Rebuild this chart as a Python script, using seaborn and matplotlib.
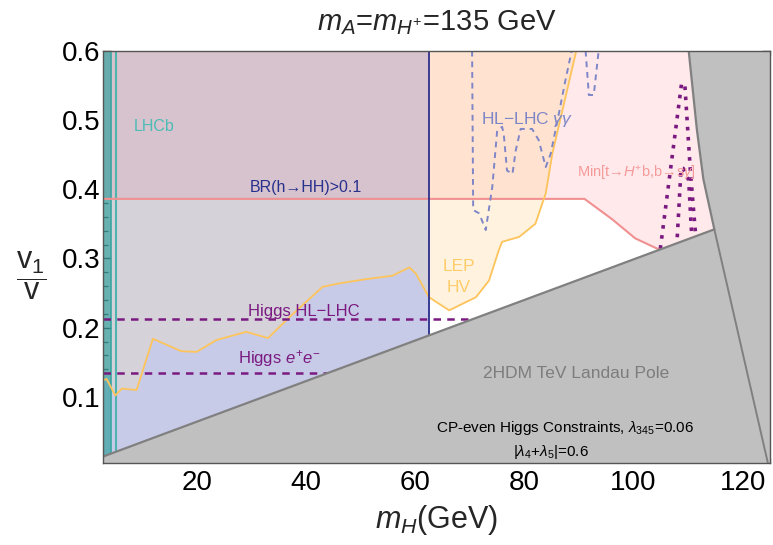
import matplotlib
matplotlib.use("Agg")
import matplotlib.pyplot as plt
from matplotlib.ticker import MultipleLocator
import seaborn as sns
import pandas as pd

# plot range
x_min, x_max = 2.8, 125
y_min, y_max = 0.005, 0.6

# LEP / Higgs boundary (yellow line)
lep_x = [2.8, 3.4, 5.0, 6.2, 8.9, 11.9, 17.1, 19.9, 23.5, 29.0, 33.0, 36.9, 43.0, 46.1,
         50.9, 55.8, 58.9, 60.1, 62.5, 66.2, 71.1, 73.5, 75.3, 75.9, 79.0, 82.0, 83.9,
         85.1, 89.5]
lep_y = [0.124, 0.126, 0.102, 0.112, 0.110, 0.184, 0.166, 0.165, 0.182, 0.194, 0.185,
         0.215, 0.259, 0.264, 0.270, 0.275, 0.287, 0.278, 0.244, 0.225, 0.244, 0.268,
         0.312, 0.324, 0.331, 0.350, 0.394, 0.451, 0.600]

# Min[t->H+b, b->s gamma] boundary (pink)
pink_x = [2.8, 91.0, 96.0, 100.3, 104.9, 125.0]
pink_y = [0.386, 0.386, 0.357, 0.329, 0.312, 0.250]

# BR(h->HH)>0.1 : mH < mh/2
br_edge = 62.5

# LHCb
lhcb_band = [2.8, 4.2]
lhcb_line = 5.1

# Landau pole region (grey)
landau_x = [2.8, 114.8, 112.8, 111.6, 110.1, 125.0, 125.0, 2.8]
landau_y = [0.014, 0.342, 0.414, 0.486, 0.600, 0.600, 0.0, 0.0]
landau_edge_x = [2.8, 114.8, 112.8, 111.6, 110.1]
landau_edge_y = [0.014, 0.342, 0.414, 0.486, 0.600]
inner_x = [114.8, 124.6]
inner_y = [0.342, 0.005]

# HL-LHC gamma gamma (dashed)
hl_x1 = [70.4, 70.6, 71.7, 72.9, 74.1, 75.0, 75.9, 76.2, 76.8, 77.8, 78.4, 79.3, 81.4,
         82.6, 83.9, 84.8, 86.3, 87.5, 88.6, 88.8]
hl_y1 = [0.600, 0.370, 0.365, 0.341, 0.403, 0.485, 0.490, 0.480, 0.427, 0.422, 0.456,
         0.487, 0.487, 0.471, 0.432, 0.451, 0.509, 0.557, 0.598, 0.600]
hl_x2 = [91.2, 91.8, 92.7, 93.6]
hl_y2 = [0.600, 0.536, 0.536, 0.600]

# Higgs coupling lines
higgs_hl = 0.213
higgs_ee = 0.135
peak_a_x = [104.9, 108.8, 109.4, 110.4, 111.4]
peak_a_y = [0.314, 0.553, 0.550, 0.427, 0.331]
peak_b_x = [107.9, 108.7, 109.1, 110.1, 110.7]
peak_b_y = [0.316, 0.430, 0.430, 0.413, 0.326]

sns.set_theme(style="ticks")
plt.rcParams["font.family"] = ["Liberation Sans", "DejaVu Sans"]
plt.rcParams["mathtext.fontset"] = "custom"
plt.rcParams["mathtext.rm"] = "Liberation Sans"
plt.rcParams["mathtext.it"] = "Liberation Sans:italic"
plt.rcParams["mathtext.bf"] = "Liberation Sans:bold"

fig = plt.figure(figsize=(7.73, 5.45), dpi=100)
ax = fig.add_axes([0.1336, 0.151, 0.8625, 0.756])

lep = pd.DataFrame({"x": lep_x, "y": lep_y})
left = lep[lep.x <= br_edge]
right = lep[lep.x >= br_edge]

# regions
ax.fill_between(pink_x, pink_y, y_max, color="#ffe9eb", lw=0, zorder=1)
ax.fill_between(right.x, right.y, y_max, color="#ffd383", alpha=0.25, lw=0, zorder=1.1)
ax.fill_between([x_min, br_edge], y_min - 0.01, y_max, color="#8a7e95", alpha=0.35, lw=0, zorder=1.2)
ax.fill_between(left.x, y_min - 0.01, left.y, color="#c8cbe8", lw=0, zorder=1.3)
ax.axvspan(lhcb_band[0], lhcb_band[1], color="#1f9c96", alpha=0.6, lw=0, zorder=1.4)
ax.axvline(lhcb_band[1], color="#3aa6a2", lw=1.2, zorder=1.5)
ax.axvline(lhcb_line, color="#4fb3ae", lw=1.5, zorder=1.5)

# boundary lines
sns.lineplot(x=pink_x, y=pink_y, sort=False, estimator=None, color="#f09090", lw=1.5, ax=ax, zorder=2)
sns.lineplot(x=lep_x, y=lep_y, sort=False, estimator=None, color="#fdc45c", lw=1.3, ax=ax, zorder=2.1)
ax.axvline(br_edge, color="#2b2e8c", lw=1.3, zorder=2.2)
sns.lineplot(x=hl_x1, y=hl_y1, sort=False, estimator=None, color="#7e86c8", lw=1.4,
             linestyle=(0, (3, 2.5)), ax=ax, zorder=2.3)
sns.lineplot(x=hl_x2, y=hl_y2, sort=False, estimator=None, color="#7e86c8", lw=1.4,
             linestyle=(0, (3, 2.5)), ax=ax, zorder=2.3)
ax.axhline(higgs_hl, color="#7a1a80", lw=1.8, linestyle=(0, (3, 2.5)), zorder=2.4)
ax.axhline(higgs_ee, color="#7a1a80", lw=1.8, linestyle=(0, (3, 2.5)), zorder=2.4)
for px, py in [(peak_a_x, peak_a_y), (peak_b_x, peak_b_y)]:
    sns.lineplot(x=px, y=py, sort=False, estimator=None, color="#7a1a80", lw=2.6,
                 linestyle=(0, (1.0, 1.8)), ax=ax, zorder=2.5)

# Landau pole
ax.fill(landau_x, landau_y, color="#c0c0c0", lw=0, zorder=4)
ax.plot(landau_edge_x, landau_edge_y, color="#808080", lw=1.6, zorder=4.5)
ax.plot(inner_x, inner_y, color="#808080", lw=1.4, zorder=4.5)

# labels inside the plot
ax.text(12.1, 0.490, "LHCb", color="#4dbbb5", fontsize=11.5, ha="center", va="center", zorder=6)
ax.text(39.9, 0.403, "BR(h→HH)>0.1", color="#28308e", fontsize=11.5, ha="center", va="center", zorder=6)
ax.text(72.0, 0.501, "HL−LHC $\\gamma\\gamma$", color="#7e86c8", fontsize=12.5, ha="left", va="center", zorder=6)
ax.text(89.6, 0.422, "Min[t→$H^{+}$b,b→s$\\gamma$]", color="#f59a9a", fontsize=10.5, ha="left", va="center", zorder=6)
ax.text(68.0, 0.288, "LEP", color="#ffcc6a", fontsize=12.5, ha="center", va="center", zorder=6)
ax.text(68.0, 0.258, "HV", color="#ffcc6a", fontsize=12.5, ha="center", va="center", zorder=6)
ax.text(39.5, 0.223, "Higgs HL−LHC", color="#7a1a80", fontsize=12, ha="center", va="center", zorder=6)
ax.text(35.1, 0.155, "Higgs $e^{+}e^{-}$", color="#7a1a80", fontsize=12, ha="center", va="center", zorder=6)
ax.text(106.5, 0.134, "2HDM TeV Landau Pole", color="#7d7d7d", fontsize=12.5, ha="right", va="center", zorder=6)
ax.text(87.5, 0.055, "CP-even Higgs Constraints, $\\lambda_{345}$=0.06", color="black", fontsize=11,
        ha="center", va="center", zorder=6)
ax.text(84.8, 0.021, "|$\\lambda_4$+$\\lambda_5$|=0.6", color="black", fontsize=11,
        ha="center", va="center", zorder=6)

ax.set_xlim(x_min, x_max)
ax.set_ylim(y_min, y_max)
ax.xaxis.set_major_locator(MultipleLocator(20))
ax.xaxis.set_minor_locator(MultipleLocator(5))
ax.yaxis.set_major_locator(MultipleLocator(0.1))
ax.yaxis.set_minor_locator(MultipleLocator(0.02))
ax.tick_params(which="both", direction="in", top=True, right=True, colors="#333333",
               labelcolor="black", labelsize=20, zorder=7)
ax.tick_params(which="major", length=6, width=1, pad=5)
ax.tick_params(which="minor", length=3.5, width=0.9)
ax.tick_params(axis="y", pad=2)
for s in ax.spines.values():
    s.set_color("#555555")
    s.set_linewidth(1.0)
    s.set_zorder(8)
ax.set_xlabel("")
ax.set_ylabel("")

fig.text(0.565, 0.958, "$m_A$=$m_{H^{+}}$=135 GeV", fontsize=21, ha="center", va="center")
fig.text(0.565, 0.045, "$m_H$(GeV)", fontsize=22, ha="center", va="center")
fig.text(0.04, 0.495, "$\\dfrac{\\mathrm{v}_1}{\\mathrm{v}}$", fontsize=22, ha="center", va="center")

fig.savefig("out.png", dpi=100)
